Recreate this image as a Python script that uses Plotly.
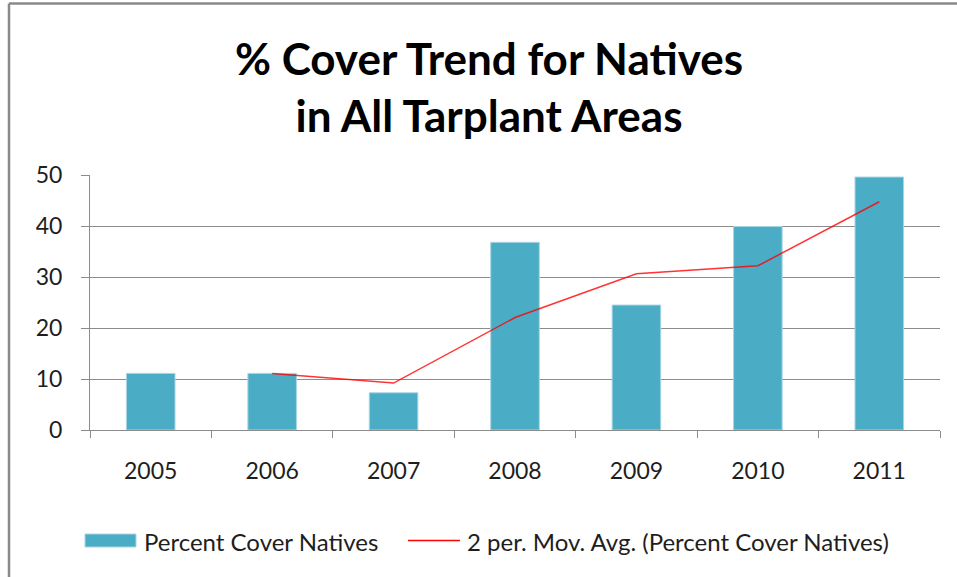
import pandas as pd
import plotly.graph_objects as go

# Survey years and mean percent cover of native species
years = ["2005", "2006", "2007", "2008", "2009", "2010", "2011"]
percent_cover = [11.1, 11.1, 7.3, 36.8, 24.5, 39.9, 49.6]
y_ticks = [0, 10, 20, 30, 40, 50]

bar_name = "Percent Cover Natives"
trend_name = "2 per. Mov. Avg. (Percent Cover Natives)"

# Two-period moving average trendline
moving_avg = pd.Series(percent_cover).rolling(2).mean().tolist()

W, H = 957, 577
L, R, T, B = 90, 17, 175, 147
plot_w = W - L - R
plot_h = H - T - B

def px_x(x):
    return (x - L) / plot_w

def px_y(y):
    return (H - B - y) / plot_h

FONT = "Lato"
BAR_COLOR = "#4BACC6"
GRID = "#8C8C8C"
TEXT = "#1E1E1E"

fig = go.Figure()
fig.add_trace(go.Bar(
    x=years, y=percent_cover, name=bar_name, width=0.4,
    marker=dict(color=BAR_COLOR, line=dict(color="#A9D5E3", width=1)),
    showlegend=False,
))
fig.add_trace(go.Scatter(
    x=years, y=moving_avg, name=trend_name, mode="lines",
    line=dict(color="rgba(255,0,0,0.8)", width=1.5),
    connectgaps=False, showlegend=False,
))

shapes = [
    # outer chart frame (top and left edges)
    dict(type="line", xref="paper", yref="paper",
         x0=px_x(9), x1=px_x(960), y0=px_y(3.5), y1=px_y(3.5),
         line=dict(color="#8A8A8A", width=2.5)),
    dict(type="line", xref="paper", yref="paper",
         x0=px_x(9), x1=px_x(9), y0=px_y(3.5), y1=px_y(580),
         line=dict(color="#8A8A8A", width=2.5)),
    # legend swatches
    dict(type="rect", xref="paper", yref="paper",
         x0=px_x(85), x1=px_x(136), y0=px_y(547), y1=px_y(534),
         fillcolor=BAR_COLOR, line=dict(color="#A9D5E3", width=1)),
    dict(type="line", xref="paper", yref="paper",
         x0=px_x(408), x1=px_x(460), y0=px_y(540.5), y1=px_y(540.5),
         line=dict(color="red", width=1.5)),
]

annotations = [
    dict(text=bar_name, xref="paper", yref="paper", x=px_x(142), y=px_y(541),
         xanchor="left", yanchor="middle", showarrow=False,
         font=dict(family=FONT, size=24, color=TEXT)),
    dict(text=trend_name, xref="paper", yref="paper", x=px_x(465), y=px_y(541),
         xanchor="left", yanchor="middle", showarrow=False,
         font=dict(family=FONT, size=24, color=TEXT)),
]

fig.update_layout(
    width=W, height=H,
    margin=dict(l=L, r=R, t=T, b=B),
    paper_bgcolor="white", plot_bgcolor="white",
    title=dict(
        text="<b>% Cover Trend for Natives<br>in All Tarplant Areas</b>",
        xref="container", x=489 / W, xanchor="center",
        yref="container", y=1 - 75 / H, yanchor="middle",
        font=dict(family=FONT, size=44, color="black"),
    ),
    shapes=shapes, annotations=annotations,
    showlegend=False,
    bargap=0.6,
)
fig.update_xaxes(
    type="category", tickson="boundaries", ticks="outside", ticklen=7,
    tickcolor=GRID, showline=True, linecolor=GRID, linewidth=1,
    showgrid=False, ticklabelstandoff=20,
    tickfont=dict(family=FONT, size=23, color=TEXT),
)
fig.update_yaxes(
    range=[0, 50], tickvals=y_ticks, ticks="outside", ticklen=8,
    tickcolor=GRID, showline=True, linecolor=GRID, linewidth=1,
    showgrid=True, gridcolor=GRID, gridwidth=1, zeroline=False,
    ticklabelstandoff=14,
    tickfont=dict(family=FONT, size=23, color=TEXT),
)

fig.write_html("out.html")
